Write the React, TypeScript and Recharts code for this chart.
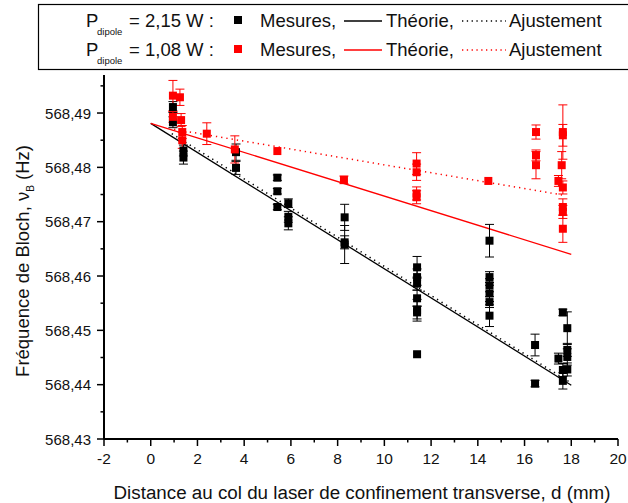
import {
  ComposedChart,
  Line,
  Scatter,
  ErrorBar,
  XAxis,
  YAxis,
} from "recharts";

const FONT = "'Liberation Sans', Arial, sans-serif";
const RED = "#ff0000";
const BLACK = "#000000";

// x (mm), y (Hz), err (Hz)
const blackMeasures = [
  { x: 0.95, y: 568.4911, err: 0.001 },
  { x: 0.95, y: 568.4883, err: 0.001 },
  { x: 1.4, y: 568.4831, err: 0.001 },
  { x: 1.4, y: 568.4818, err: 0.0012 },
  { x: 3.65, y: 568.4828, err: 0.0015 },
  { x: 3.65, y: 568.4799, err: 0.0012 },
  { x: 5.42, y: 568.4781, err: 0.0005 },
  { x: 5.42, y: 568.4756, err: 0.0005 },
  { x: 5.42, y: 568.4727, err: 0.0005 },
  { x: 5.89, y: 568.4734, err: 0.0008 },
  { x: 5.89, y: 568.4709, err: 0.001 },
  { x: 5.89, y: 568.4697, err: 0.0012 },
  { x: 8.3, y: 568.4708, err: 0.0024 },
  { x: 8.3, y: 568.4662, err: 0.0012 },
  { x: 8.3, y: 568.4658, err: 0.0035 },
  { x: 11.4, y: 568.4616, err: 0.002 },
  { x: 11.4, y: 568.4598, err: 0.0015 },
  { x: 11.4, y: 568.4586, err: 0.0012 },
  { x: 11.4, y: 568.4559, err: 0.0015 },
  { x: 11.4, y: 568.4537, err: 0.002 },
  { x: 11.4, y: 568.4533, err: 0.0012 },
  { x: 11.4, y: 568.4456, err: null },
  { x: 14.5, y: 568.4665, err: 0.003 },
  { x: 14.5, y: 568.4598, err: 0.001 },
  { x: 14.5, y: 568.4583, err: 0.0012 },
  { x: 14.5, y: 568.4568, err: 0.0015 },
  { x: 14.5, y: 568.4552, err: 0.001 },
  { x: 14.5, y: 568.4527, err: 0.002 },
  { x: 16.45, y: 568.4473, err: 0.002 },
  { x: 16.45, y: 568.4402, err: 0.0006 },
  { x: 17.64, y: 568.4533, err: 0.0006 },
  { x: 17.83, y: 568.4504, err: 0.003 },
  { x: 17.45, y: 568.4448, err: 0.001 },
  { x: 17.83, y: 568.4464, err: 0.0012 },
  { x: 17.83, y: 568.4451, err: 0.0015 },
  { x: 17.64, y: 568.4427, err: 0.0012 },
  { x: 17.83, y: 568.4428, err: 0.0012 },
  { x: 17.64, y: 568.4407, err: 0.0015 },
];

const redMeasures = [
  { x: 0.95, y: 568.4932, err: 0.0028 },
  { x: 1.25, y: 568.4929, err: 0.0015 },
  { x: 0.95, y: 568.4893, err: 0.001 },
  { x: 1.3, y: 568.4887, err: 0.0012 },
  { x: 1.35, y: 568.4865, err: 0.0012 },
  { x: 1.35, y: 568.485, err: 0.0015 },
  { x: 2.4, y: 568.4862, err: 0.002 },
  { x: 3.6, y: 568.4833, err: 0.0025 },
  { x: 5.42, y: 568.483, err: null },
  { x: 8.27, y: 568.4777, err: 0.0007 },
  { x: 11.38, y: 568.4807, err: 0.002 },
  { x: 11.38, y: 568.4791, err: 0.0015 },
  { x: 11.38, y: 568.4752, err: 0.0012 },
  { x: 11.38, y: 568.4745, err: 0.0012 },
  { x: 14.45, y: 568.4775, err: null },
  { x: 16.49, y: 568.4865, err: 0.0013 },
  { x: 16.49, y: 568.4822, err: 0.001 },
  { x: 16.49, y: 568.4804, err: 0.0025 },
  { x: 17.64, y: 568.4865, err: 0.005 },
  { x: 17.64, y: 568.4859, err: 0.002 },
  { x: 17.59, y: 568.4804, err: 0.0025 },
  { x: 17.45, y: 568.4775, err: 0.001 },
  { x: 17.64, y: 568.4763, err: 0.0012 },
  { x: 17.64, y: 568.4727, err: 0.0015 },
  { x: 17.64, y: 568.4718, err: 0.0012 },
  { x: 17.64, y: 568.4687, err: 0.0025 },
];

const blackTheory = [
  { x: 0, y: 568.4881 },
  { x: 18, y: 568.4399 },
];
const blackFit = [
  { x: 0.9, y: 568.4862 },
  { x: 18, y: 568.4403 },
];
const redTheory = [
  { x: 0, y: 568.4881 },
  { x: 18, y: 568.464 },
];
const redFit = [
  { x: 1, y: 568.487 },
  { x: 17.65, y: 568.4749 },
];

const xTicks = [-2, -1, 0, 1, 2, 3, 4, 5, 6, 7, 8, 9, 10, 11, 12, 13, 14, 15, 16, 17, 18, 19, 20];
const yTicks = [
  568.43, 568.435, 568.44, 568.445, 568.45, 568.455, 568.46, 568.465, 568.47, 568.475, 568.48,
  568.485, 568.49, 568.495,
];

const isMajorY = (v: number) => Math.abs(v * 100 - Math.round(v * 100)) < 1e-6;

function YTick(props: any) {
  const { x, y, payload } = props;
  const major = isMajorY(payload.value);
  return (
    <g>
      <line x1={x} x2={x - (major ? 7 : 3.5)} y1={y} y2={y} stroke={BLACK} strokeWidth={1.5} />
      {major && (
        <text x={x - 13} y={y + 5.5} textAnchor="end" fontSize={15} fontFamily={FONT} fill="#111">
          {payload.value.toFixed(2).replace(".", ",")}
        </text>
      )}
    </g>
  );
}

function XTick(props: any) {
  const { x, y, payload } = props;
  const major = payload.value % 2 === 0;
  return (
    <g>
      <line x1={x} x2={x} y1={y} y2={y + (major ? 7 : 3.5)} stroke={BLACK} strokeWidth={1.5} />
      {major && (
        <text x={x} y={y + 25} textAnchor="middle" fontSize={15.5} fontFamily={FONT} fill="#111">
          {payload.value}
        </text>
      )}
    </g>
  );
}

function XTitle() {
  return (
    <text x={362} y={499} textAnchor="middle" fontSize={18.8} fontFamily={FONT} fill="#111">
      Distance au col du laser de confinement transverse, d (mm)
    </text>
  );
}

function YTitle() {
  return (
    <text
      transform="translate(29,261) rotate(-90)"
      textAnchor="middle"
      fontSize={18.5}
      fontFamily={FONT}
      fill="#111"
    >
      Fréquence de Bloch, ν
      <tspan fontSize={10} dy={5}>B</tspan>
      <tspan dy={-5}> (Hz)</tspan>
    </text>
  );
}

const square = (color: string) => (props: any) =>
  <rect x={props.cx - 4} y={props.cy - 4} width={8} height={8} fill={color} />;

function LegendRow({ y, power, color }: { y: number; power: string; color: string }) {
  return (
    <g fontFamily={FONT} fontSize={18.5} fill="#111">
      <text x={86} y={y}>P</text>
      <text x={97} y={y + 8} fontSize={9.5}>dipole</text>
      <text x={129} y={y}>= {power} W :</text>
      <rect x={234} y={y - 11} width={8} height={8} fill={color} />
      <text x={260} y={y}>Mesures,</text>
      <line x1={344} x2={382} y1={y - 6} y2={y - 6} stroke={color} strokeWidth={1.3} />
      <text x={386} y={y}>Théorie,</text>
      <line x1={462} x2={506} y1={y - 6} y2={y - 6} stroke={color} strokeWidth={1.3} strokeDasharray="1.3 3.5" />
      <text x={509} y={y}>Ajustement</text>
    </g>
  );
}

export default function App() {
  return (
    <div style={{ position: "relative", width: 628, height: 503, overflow: "hidden", background: "#fff" }}>
      <style>{"body{margin:0}"}</style>
      <ComposedChart width={628} height={503} margin={{ top: 75, right: 10, bottom: 34, left: 34 }}>
        <XAxis
          type="number"
          dataKey="x"
          domain={[-2, 20]}
          ticks={xTicks}
          interval={0}
          allowDataOverflow
          tickSize={0}
          tickMargin={0}
          tick={<XTick />}
          axisLine={{ stroke: BLACK, strokeWidth: 2 }}
          height={30}
          label={<XTitle />}
        />
        <YAxis
          type="number"
          dataKey="y"
          domain={[568.43, 568.497]}
          ticks={yTicks}
          interval={0}
          allowDataOverflow
          tickSize={0}
          tickMargin={0}
          tick={<YTick />}
          axisLine={{ stroke: BLACK, strokeWidth: 2 }}
          width={70}
          label={<YTitle />}
        />
        <Line data={blackTheory} dataKey="y" stroke={BLACK} strokeWidth={1.3} dot={false} isAnimationActive={false} />
        <Line
          data={blackFit}
          dataKey="y"
          stroke={BLACK}
          strokeWidth={1.5}
          strokeDasharray="1.3 4"
          dot={false}
          isAnimationActive={false}
        />
        <Line data={redTheory} dataKey="y" stroke={RED} strokeWidth={1.3} dot={false} isAnimationActive={false} />
        <Line
          data={redFit}
          dataKey="y"
          stroke={RED}
          strokeWidth={1.5}
          strokeDasharray="1.3 4"
          dot={false}
          isAnimationActive={false}
        />
        <Scatter data={blackMeasures} shape={square(BLACK)} isAnimationActive={false}>
          <ErrorBar dataKey="err" direction="y" width={4.5} stroke={BLACK} strokeWidth={1} />
        </Scatter>
        <Scatter data={redMeasures} shape={square(RED)} isAnimationActive={false}>
          <ErrorBar dataKey="err" direction="y" width={4.5} stroke={RED} strokeWidth={1} />
        </Scatter>
      </ComposedChart>
      <svg width={628} height={75} style={{ position: "absolute", left: 0, top: 0 }}>
        <rect x={38.5} y={4.5} width={620} height={65} fill="#fff" stroke={BLACK} strokeWidth={1.2} />
        <LegendRow y={27} power="2,15" color={BLACK} />
        <LegendRow y={56} power="1,08" color={RED} />
      </svg>
    </div>
  );
}
